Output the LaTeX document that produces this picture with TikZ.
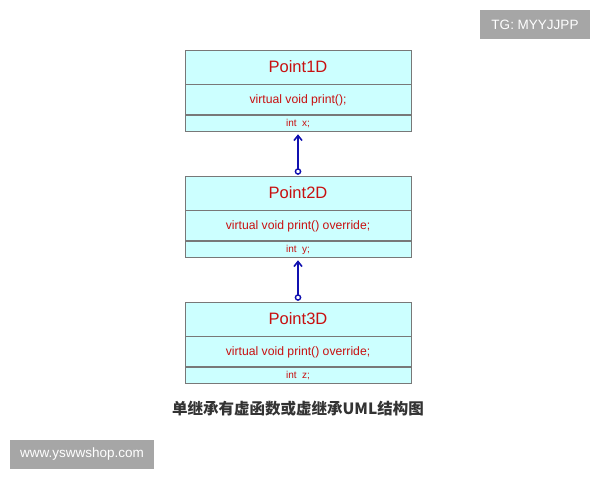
\documentclass[tikz,border=0pt]{standalone}
\usepackage{fontspec}
\setmainfont{Liberation Sans}
\newfontfamily\cjk{Noto Sans CJK SC}
\usetikzlibrary{positioning,arrows.meta}
\definecolor{boxfill}{HTML}{CCFFFF}
\definecolor{boxline}{HTML}{787878}
\definecolor{txtred}{HTML}{C81010}
\definecolor{arrblue}{HTML}{1010B0}
\definecolor{tagbg}{HTML}{A6A6A6}
\tikzset{
  cls/.style={draw=boxline,fill=boxfill,minimum width=226pt,inner sep=0pt,text=txtred,line width=0.9pt},
  clsname/.style={cls,minimum height=34pt,font=\fontsize{16.5}{18}\selectfont},
  clsop/.style={cls,minimum height=30pt,font=\fontsize{12.2}{14}\selectfont},
  clsattr/.style={cls,minimum height=16pt,font=\fontsize{10}{11}\selectfont},
  inherit/.style={draw=arrblue,line width=1.6pt,-{Straight Barb[length=5pt,width=8pt,line width=1.6pt]}},
  tag/.style={fill=tagbg,text=white,inner sep=0pt}
}
\begin{document}
\begin{tikzpicture}[x=1pt,y=-1pt]
\useasboundingbox (0,0) rectangle (600,480);
\fill[white] (0,0) rectangle (600,480);
% Point1D
\node[clsname] (p1name) at (298,67) {Point1D};
\node[clsop,below=0pt of p1name] (p1op) {virtual void print();};
\node[clsattr,below=0pt of p1op] (p1attr) {int\ \ x;};
% Point2D
\node[clsname] (p2name) at (298,193) {Point2D};
\node[clsop,below=0pt of p2name] (p2op) {virtual void print() override;};
\node[clsattr,below=0pt of p2op] (p2attr) {int\ \ y;};
% Point3D
\node[clsname] (p3name) at (298,319) {Point3D};
\node[clsop,below=0pt of p3name] (p3op) {virtual void print() override;};
\node[clsattr,below=0pt of p3op] (p3attr) {int\ \ z;};
% inheritance
\coordinate (c2) at (298,171.5);
\coordinate (c3) at (298,297.5);
\draw[inherit] (c2) -- ([yshift=-2pt]p1attr.south);
\draw[inherit] (c3) -- ([yshift=-2pt]p2attr.south);
\draw[arrblue,line width=1.4pt,fill=white] (c2) circle (2.6pt);
\draw[arrblue,line width=1.4pt,fill=white] (c3) circle (2.6pt);
% caption and tags
\node[font=\cjk\bfseries\fontsize{15.5}{17}\selectfont,text=black!80] (cap) at (298,409) {单继承有虚函数或虚继承UML结构图};
\node[tag,minimum width=110pt,minimum height=29pt,font=\fontsize{13.5}{15}\selectfont] (tg) at (535,24.5) {TG: MYYJJPP};
\node[tag,minimum width=144pt,minimum height=29pt,font=\fontsize{13.5}{15}\selectfont] (site) at (82,454.5) {www.yswwshop.com};
\end{tikzpicture}
\end{document}
